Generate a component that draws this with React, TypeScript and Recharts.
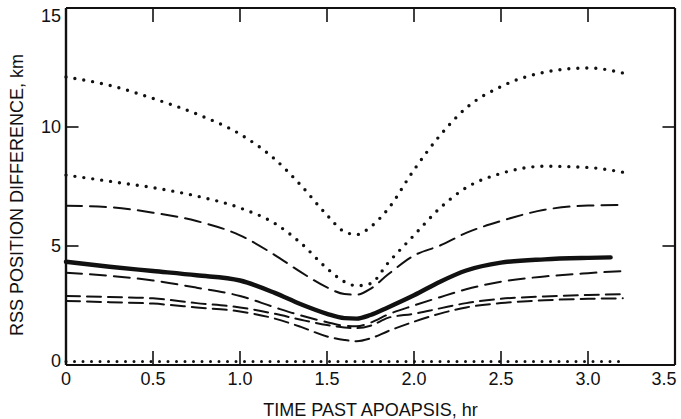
import { LineChart, Line, XAxis, YAxis, ReferenceLine } from "recharts"

// time past apoapsis, hr
const hours = [0, 0.25, 0.5, 0.75, 1.0, 1.2, 1.35, 1.5, 1.6, 1.67, 1.75, 1.85, 2.0, 2.15, 2.3, 2.5, 2.75, 3.0, 3.2]
const solidHours = [0, 0.25, 0.5, 0.75, 1.0, 1.2, 1.35, 1.5, 1.6, 1.67, 1.75, 1.85, 2.0, 2.15, 2.3, 2.5, 2.75, 3.0, 3.13]
const topDottedHours = [0, 0.25, 0.5, 0.75, 1.0, 1.2, 1.35, 1.5, 1.6, 1.67, 1.75, 1.85, 2.0, 2.15, 2.3, 2.5, 2.75, 3.0, 3.24]

// RSS position difference, km
const dottedHigh = [12.1, 11.75, 11.2, 10.55, 9.7, 8.65, 7.55, 6.3, 5.6, 5.48, 5.8, 6.55, 8.2, 9.65, 10.8, 11.7, 12.3, 12.48, 12.2]
const dottedMid = [7.98, 7.72, 7.45, 7.1, 6.6, 5.95, 5.12, 4.06, 3.5, 3.33, 3.42, 4.28, 5.45, 6.6, 7.45, 8.05, 8.35, 8.3, 8.1]
const dashedHigh = [6.69, 6.63, 6.4, 6.05, 5.45, 4.62, 3.9, 3.26, 2.98, 2.95, 3.2, 3.8, 4.6, 5.02, 5.55, 6.05, 6.52, 6.7, 6.72]
const solid = [4.34, 4.13, 3.95, 3.77, 3.55, 3.03, 2.55, 2.15, 1.97, 1.95, 2.1, 2.42, 2.93, 3.5, 3.97, 4.3, 4.44, 4.5, 4.52]
const dashedMid = [3.88, 3.75, 3.55, 3.25, 2.9, 2.42, 2.08, 1.8, 1.65, 1.63, 1.78, 2.12, 2.5, 2.85, 3.18, 3.5, 3.72, 3.86, 3.95]
const dashedPairUpper = [2.9, 2.86, 2.8, 2.6, 2.42, 2.15, 1.9, 1.68, 1.58, 1.55, 1.65, 1.98, 2.15, 2.38, 2.6, 2.78, 2.88, 2.94, 2.98]
const dashedPairLower = [2.69, 2.64, 2.58, 2.42, 2.25, 1.95, 1.6, 1.2, 1.05, 1.0, 1.12, 1.42, 1.82, 2.16, 2.42, 2.6, 2.72, 2.78, 2.8]
const dottedZero = [0.15, 0.15, 0.15, 0.15, 0.15, 0.15, 0.15, 0.15, 0.15, 0.15, 0.15, 0.15, 0.15, 0.15, 0.15, 0.15, 0.15, 0.15, 0.15]

const xTicks = [0, 0.5, 1.0, 1.5, 2.0, 2.5, 3.0, 3.5]
const xInnerTicks = [0.5, 1.0, 1.5, 2.0, 2.5, 3.0]
const yTicks = [0, 5, 10, 15]
const yInnerTicks = [5, 10]

const X_MAX = 3.5
const Y_MAX = 15
// inward tick mark lengths, in axis units (about 14px and 12px on screen)
const X_TICK_LEN = 0.59
const Y_TICK_LEN = 0.072

const toRows = (xs: number[], ys: number[]) => xs.map((t, i) => ({ t, v: ys[i] }))

const INK = "#111"
const FONT = "'Liberation Sans', Arial, sans-serif"

const BottomTick = (props: any) => {
  const { x, y, payload } = props
  const nudge = payload.value === X_MAX ? -7 : 0
  return (
    <text x={x + nudge} y={y + 13} textAnchor="middle" fill={INK} fontSize={18} fontFamily={FONT}>
      {payload.value === 0 ? "0" : Number(payload.value).toFixed(1)}
    </text>
  )
}

const LeftTick = (props: any) => {
  const { x, y, payload } = props
  const shift = payload.value === 15 ? 7 : payload.value === 0 ? -4 : 0
  return (
    <text x={x} y={y + shift} textAnchor="end" dominantBaseline="central" fill={INK} fontSize={18} fontFamily={FONT}>
      {payload.value}
    </text>
  )
}

const YTitle = () => (
  <text
    x={17}
    y={195}
    transform="rotate(-90, 17, 195)"
    textAnchor="middle"
    dominantBaseline="central"
    fill={INK}
    fontSize={18}
    fontFamily={FONT}
  >
    RSS POSITION DIFFERENCE, km
  </text>
)

const series = [
  { key: "dottedHigh", data: toRows(topDottedHours, dottedHigh), width: 3.4, dash: "0 9" },
  { key: "dottedMid", data: toRows(hours, dottedMid), width: 3.4, dash: "0 9" },
  { key: "dashedHigh", data: toRows(hours, dashedHigh), width: 2, dash: "16 8" },
  { key: "solid", data: toRows(solidHours, solid), width: 4.4, dash: undefined },
  { key: "dashedMid", data: toRows(hours, dashedMid), width: 2, dash: "16 8" },
  { key: "dashedPairUpper", data: toRows(hours, dashedPairUpper), width: 2, dash: "14 7" },
  { key: "dashedPairLower", data: toRows(hours, dashedPairLower), width: 2, dash: "14 7" },
  { key: "dottedZero", data: toRows(hours, dottedZero), width: 3, dash: "0 8.5" },
]

export default function App() {
  return (
    <div style={{ position: "absolute", left: 0, top: 0, background: "#fff" }}>
      <LineChart width={681} height={419} margin={{ top: 8, right: 6, bottom: 0, left: 0 }}>
        <XAxis
          dataKey="t"
          type="number"
          domain={[0, X_MAX]}
          ticks={xTicks}
          height={54}
          tickSize={0}
          tickMargin={7}
          tick={<BottomTick />}
          tickLine={false}
          axisLine={{ stroke: INK, strokeWidth: 2.2 }}
          label={{ value: "TIME PAST APOAPSIS, hr", position: "insideBottom", offset: 3, fill: INK, fontSize: 18, fontFamily: FONT }}
        />
        <YAxis
          type="number"
          domain={[0, Y_MAX]}
          ticks={yTicks}
          width={66}
          tickSize={0}
          tickMargin={5}
          tick={<LeftTick />}
          tickLine={false}
          axisLine={{ stroke: INK, strokeWidth: 2.4 }}
          label={YTitle}
        />

        {/* frame: top and right edges */}
        <ReferenceLine y={Y_MAX} stroke={INK} strokeWidth={2.2} />
        <ReferenceLine x={X_MAX} stroke={INK} strokeWidth={2.2} />

        {/* inward tick marks */}
        {xInnerTicks.map((t) => (
          <ReferenceLine key={`b${t}`} segment={[{ x: t, y: 0 }, { x: t, y: X_TICK_LEN }]} stroke={INK} strokeWidth={1.6} />
        ))}
        {xInnerTicks.map((t) => (
          <ReferenceLine key={`t${t}`} segment={[{ x: t, y: Y_MAX }, { x: t, y: Y_MAX - X_TICK_LEN }]} stroke={INK} strokeWidth={1.6} />
        ))}
        {yInnerTicks.map((v) => (
          <ReferenceLine key={`l${v}`} segment={[{ x: 0, y: v }, { x: Y_TICK_LEN, y: v }]} stroke={INK} strokeWidth={1.6} />
        ))}
        {yInnerTicks.map((v) => (
          <ReferenceLine key={`r${v}`} segment={[{ x: X_MAX, y: v }, { x: X_MAX - Y_TICK_LEN, y: v }]} stroke={INK} strokeWidth={1.6} />
        ))}

        {series.map((s) => (
          <Line
            key={s.key}
            data={s.data}
            dataKey="v"
            type="monotone"
            stroke={INK}
            strokeWidth={s.width}
            strokeDasharray={s.dash}
            strokeLinecap="round"
            dot={false}
            activeDot={false}
            isAnimationActive={false}
          />
        ))}
      </LineChart>
    </div>
  )
}
